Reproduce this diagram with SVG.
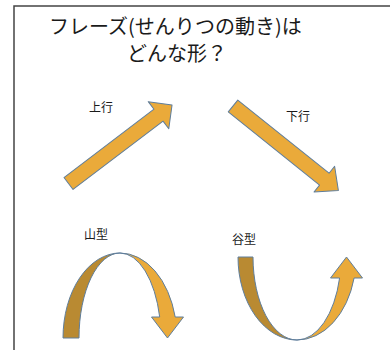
<svg xmlns="http://www.w3.org/2000/svg" width="390" height="350" viewBox="0 0 390 350">
<style>
.t{font-family:"Noto Sans CJK JP","Noto Sans CJK SC",sans-serif;fill:#1a1a1a}
.title{font-size:20px}
.lbl{font-size:12px}
.lt{fill:#EAAA3A;stroke:#5F7E9C;stroke-width:1;stroke-linejoin:round}
.dk{fill:#B98A32;stroke:#5F7E9C;stroke-width:1;stroke-linejoin:round}
</style>
<rect width="390" height="350" fill="#fff"/>
<path d="M14,351 L14,6 L391,6" fill="none" stroke="#444" stroke-width="1.5"/>
<g id="title">
<text class="t title" x="49" y="34">フレーズ(せんりつの動き)は</text>
<text class="t title" x="127" y="61">どんな形？</text>
</g>
<g id="up">
<polygon class="lt" transform="translate(68.5,183.5) rotate(-37.2)" points="0,-7.5 113,-7.5 113,-17 130,0 113,17 113,7.5 0,7.5"/>
<text class="t lbl" x="89" y="112">上行</text>
</g>
<g id="down">
<polygon class="lt" transform="translate(233,106) rotate(38.7)" points="0,-7.6 117,-7.6 117,-16.5 135,0 117,16.5 117,7.6 0,7.6"/>
<text class="t lbl" x="286" y="121">下行</text>
</g>
<g id="mountain">
<path class="dk" d="M63,338 A57,85 0 0 1 120,253 A41,85 0 0 0 79,338 Z"/>
<path class="lt" d="M120,253 A57,85 0 0 1 175.2,317 L183.5,317 L167.5,338 L151.5,317 L159.7,317 A41,85 0 0 0 120,253 Z"/>
<text class="t lbl" x="84" y="239">山型</text>
</g>
<g id="valley">
<path class="dk" d="M238,257 L253,257 A44,83 0 0 0 297,340 A59,83 0 0 1 238,257 Z"/>
<path class="lt" d="M297,340 A59,83 0 0 0 354.1,278 L362.5,278 L346.5,257 L330.5,278 L339.6,278 A44,83 0 0 1 297,340 Z"/>
<text class="t lbl" x="232" y="244">谷型</text>
</g>
</svg>
